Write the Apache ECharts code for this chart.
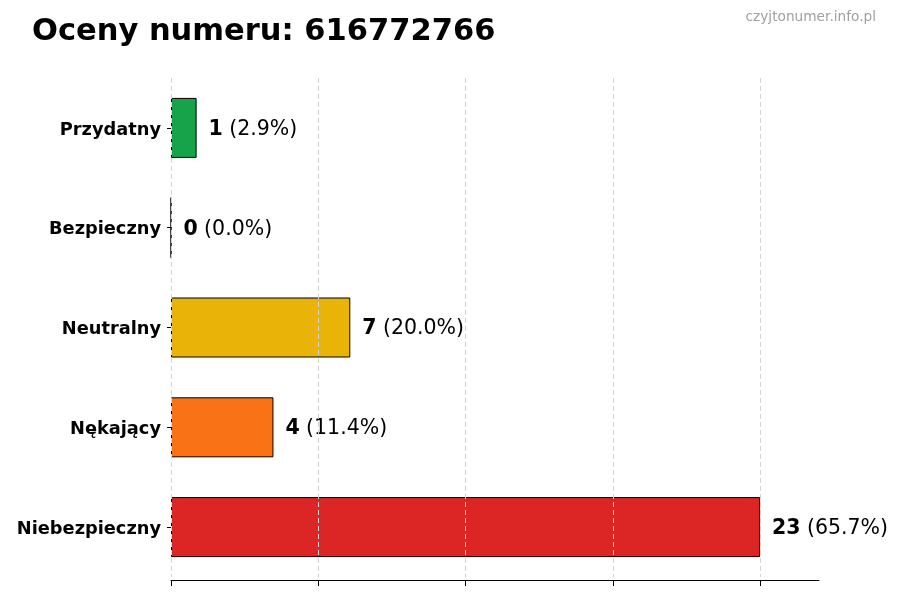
<!DOCTYPE html>
<html>
<head>
<meta charset="utf-8">
<script src="https://cdn.jsdelivr.net/npm/echarts@6/dist/echarts.min.js"></script>
<style>
  html, body { margin: 0; padding: 0; background: #fff; }
  #chart { width: 900px; height: 600px; }
</style>
</head>
<body>
<div id="chart"></div>
<script>
// dane z wykresu (od dołu do góry, jak na osi kategorii)
const categories = ['Niebezpieczny', 'Nękający', 'Neutralny', 'Bezpieczny', 'Przydatny'];
const values = [23, 4, 7, 0, 1];
const colors = ['#dc2626', '#f97316', '#eab308', '#16a34a', '#16a34a'];
const xTicks = [0, 5.75, 11.5, 17.25, 23];

const total = values.reduce((a, b) => a + b, 0);
const font = 'DejaVu Sans';

let chart = echarts.init(document.getElementById('chart'));
chart.setOption({
  animation: false,
  title: [{
    text: 'Oceny numeru: 616772766',
    left: 27, top: 12,
    textStyle: { fontFamily: font, fontWeight: 'bold', fontSize: 30.5, color: '#000' }
  }, {
    text: 'czyjtonumer.info.pl',
    right: 19, top: 5,
    textStyle: { fontFamily: font, fontWeight: 'normal', fontSize: 13.7, color: '#a0a0a0' }
  }],
  grid: { left: 171, right: 81, top: 78, bottom: 23, containLabel: false },
  xAxis: {
    type: 'value',
    min: 0,
    max: 25.3,
    offset: 3,
    z: 5,
    axisLine: { show: true, lineStyle: { color: '#000', width: 1 } },
    axisTick: { show: true, length: 6, customValues: xTicks, lineStyle: { color: '#000' } },
    axisLabel: { show: false },
    splitLine: { show: true, lineStyle: { color: '#d4d4d4', type: [5, 3], width: 1 } }
  },
  yAxis: {
    type: 'category',
    data: categories,
    axisLine: { show: false },
    axisTick: { show: true, alignWithLabel: true, length: 4, lineStyle: { color: '#000' } },
    axisLabel: {
      margin: 10,
      formatter: v => '{c|' + v + '}',
      rich: {
        c: { fontFamily: font, fontWeight: 'bold', fontSize: 17.8, color: '#000', padding: [4, 0, 0, 0] }
      }
    },
    splitLine: { show: false }
  },
  series: [{
    type: 'bar',
    data: values.map((v, i) => ({ value: v, itemStyle: { color: colors[i] } })),
    barWidth: 60,
    itemStyle: { borderColor: '#000', borderWidth: 1 },
    label: {
      show: true,
      position: 'right',
      distance: 12,
      formatter: p => '{b|' + p.value + '} {n|(' + (p.value / total * 100).toFixed(1) + '%)}',
      rich: {
        b: { fontFamily: font, fontWeight: 'bold', fontSize: 20.5, color: '#000', padding: [3, 0, 0, 0] },
        n: { fontFamily: font, fontSize: 20.5, color: '#000', padding: [3, 0, 0, 3] }
      }
    }
  }]
});
</script>
</body>
</html>
